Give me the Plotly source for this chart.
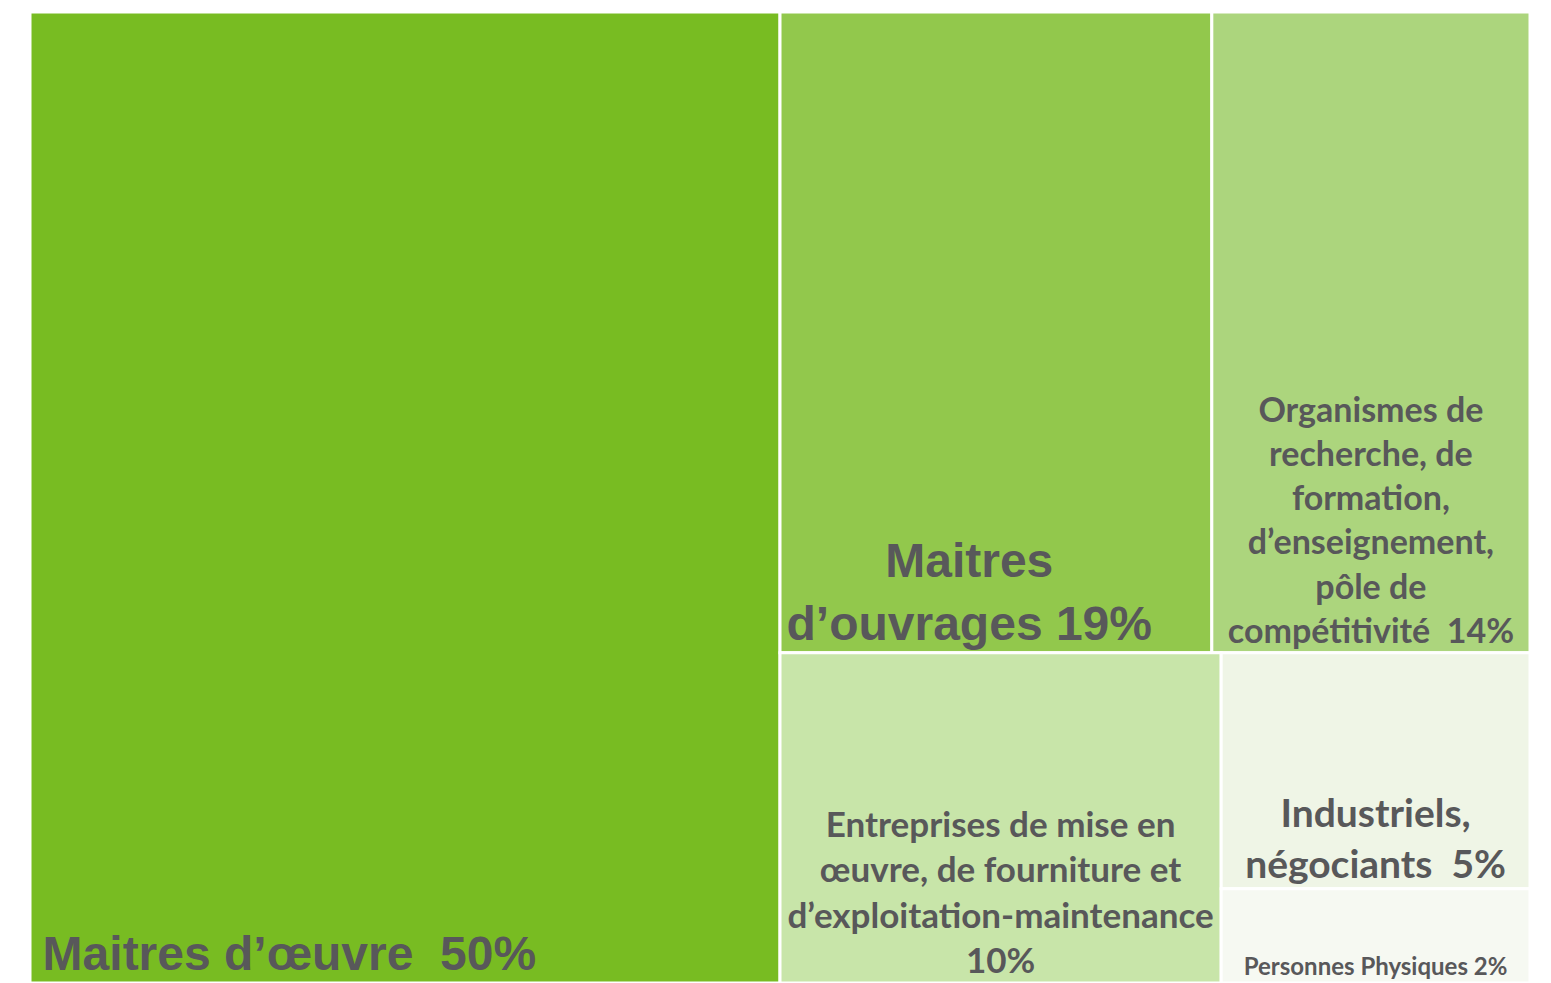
import plotly.graph_objects as go

NB = "\u00a0"

labels = [
    "Maitres d'œuvre",
    "Maitres d'ouvrages",
    "Organismes de recherche",
    "Entreprises",
    "Industriels, négociants",
    "Personnes Physiques",
]
values = [50, 19, 14, 10, 5, 2]
texts = [
    "",
    "<b>Maitres" + NB * 4 + "<br>d’ouvrages 19%" + NB * 4 + "</b>",
    "<b>Organismes de<br>recherche, de<br>formation,<br>d’enseignement,<br>pôle de<br>compétitivité  14%</b>",
    "<b>Entreprises de mise en<br>œuvre, de fourniture et<br>d’exploitation-maintenance<br>10%</b>",
    "<b>Industriels,<br>négociants  5%</b>",
    "<b>Personnes Physiques 2%</b>",
]
left_texts = ["<b>\u2009Maitres d’œuvre  50%</b>", "", "", "", "", ""]
colors = ["#78BC22", "#92C84C", "#ACD57D", "#C8E5A9", "#EFF5E6", "#F6F9F2"]
font_families = ["Liberation Sans", "Liberation Sans", "Lato", "Lato", "Lato", "Lato"]
font_sizes = [48, 48, 34, 35, 39, 24]

root = "Tous"
text_color = "#58585A"

all_labels = [root] + labels
all_parents = [""] + [root] * len(labels)
all_values = [sum(values)] + values


def make_trace(cell_texts, fill_colors, line_color, position):
    return go.Treemap(
        labels=all_labels,
        parents=all_parents,
        values=all_values,
        branchvalues="total",
        text=[""] + cell_texts,
        texttemplate="%{text}",
        textposition=position,
        textfont=dict(family=["Lato"] + font_families, size=[10] + font_sizes, color=text_color),
        marker=dict(colors=["white"] + fill_colors,
                    line=dict(color=line_color, width=3),
                    pad=dict(t=0, l=0, r=0, b=0)),
        tiling=dict(packing="squarify", pad=0),
        pathbar=dict(visible=False),
        sort=True,
        hoverinfo="label+value",
    )


fig = go.Figure()
fig.add_trace(make_trace(texts, colors, "white", "bottom center"))
fig.add_trace(make_trace(left_texts, ["rgba(0,0,0,0)"] * len(labels), "rgba(0,0,0,0)", "bottom left"))
fig.data[1].marker.colors = ["rgba(0,0,0,0)"] * (len(labels) + 1)
fig.update_layout(
    width=1551,
    height=983,
    margin=dict(l=30, r=21, t=12, b=0),
    paper_bgcolor="white",
    showlegend=False,
)
fig.write_html("out.html")
